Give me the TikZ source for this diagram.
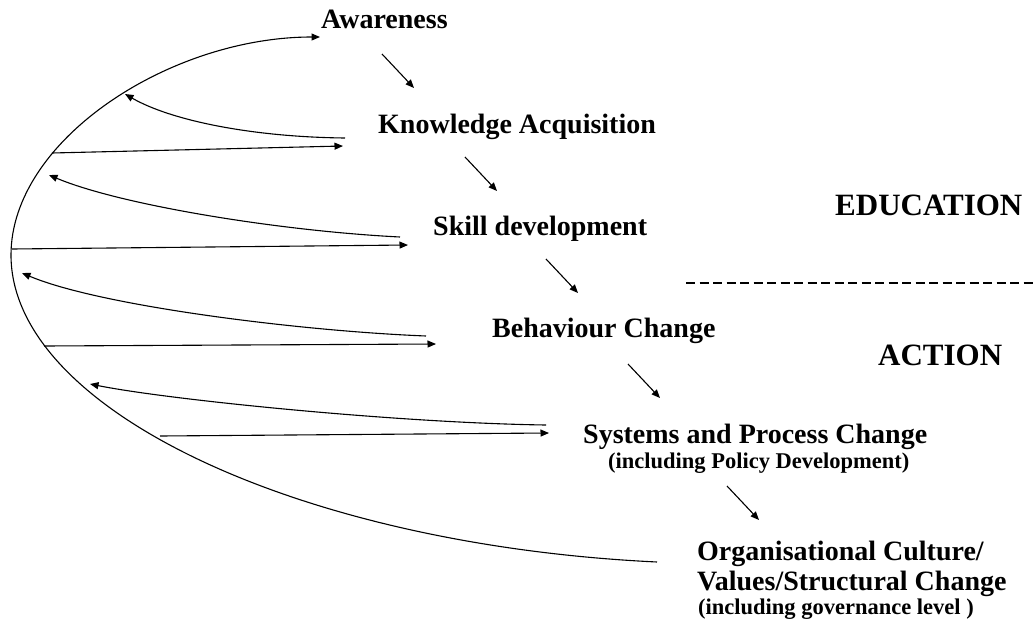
\documentclass[tikz,border=0pt]{standalone}
\usepackage{fontspec}
\setmainfont{Liberation Serif}
\usetikzlibrary{arrows.meta}
\begin{document}
\begin{tikzpicture}[x=1pt,y=-1pt,
  lbl/.style={anchor=base west, inner sep=0pt, font=\fontsize{28}{30}\selectfont\bfseries},
  sublbl/.style={anchor=base west, inner sep=0pt, font=\fontsize{22.5}{24}\selectfont\bfseries},
  headlbl/.style={anchor=base west, inner sep=0pt, font=\fontsize{31}{33}\selectfont\bfseries},
  arr/.style={line width=1.1pt, -{Triangle[length=8.5pt,width=7pt]}},
  curve/.style={line width=1.1pt},
  divider/.style={line width=1.3pt, dash pattern=on 9pt off 4.5pt}]
\path[use as bounding box] (0,0) rectangle (1035,629);

% labels
\node[lbl] (aw) at (321,28) {Awareness};
\node[lbl] (ka) at (378,133) {Knowledge Acquisition};
\node[lbl] (sd) at (433,235) {Skill development};
\node[lbl] (bc) at (492,337) {Behaviour Change};
\node[lbl] (sp) at (583,443) {Systems and Process Change};
\node[sublbl] (pd) at (608,468) {(including Policy Development)};
\node[lbl] (oc) at (697,560) {Organisational Culture/};
\node[lbl] (vs) at (697,590) {Values/Structural Change};
\node[sublbl] (gl) at (698,614) {(including governance level )};
\node[headlbl] (ed) at (835,215) {EDUCATION};
\node[headlbl] (ac) at (878,365) {ACTION};

% divider
\coordinate (dl) at (686,283);
\coordinate (dr) at (1035,283);
\draw[divider] (dl) -- (dr);

% big curve
\coordinate (ctop) at (320,37);
\coordinate (cleft) at (11,255);
\coordinate (cbot) at (657,562);
\draw[curve, -{Triangle[length=8.5pt,width=7pt]}] (cbot) .. controls (300,545) and (11,410) .. (cleft)
  .. controls (11,140) and (170,37) .. (ctop);

% diagonal progression arrows
\coordinate (d1a) at (382,54);  \coordinate (d1b) at (414,88);
\coordinate (d2a) at (465,157); \coordinate (d2b) at (497,191);
\coordinate (d3a) at (546,259); \coordinate (d3b) at (578,293);
\coordinate (d4a) at (628,364); \coordinate (d4b) at (660,398);
\coordinate (d5a) at (727,486); \coordinate (d5b) at (759,520);
\draw[arr] (d1a) -- (d1b);
\draw[arr] (d2a) -- (d2b);
\draw[arr] (d3a) -- (d3b);
\draw[arr] (d4a) -- (d4b);
\draw[arr] (d5a) -- (d5b);

% forward arrows
\coordinate (f1a) at (52,153);  \coordinate (f1b) at (343,146);
\coordinate (f2a) at (12,249);  \coordinate (f2b) at (408,245);
\coordinate (f3a) at (44,346);  \coordinate (f3b) at (436,344);
\coordinate (f4a) at (160,436); \coordinate (f4b) at (549,433);
\draw[arr] (f1a) -- (f1b);
\draw[arr] (f2a) -- (f2b);
\draw[arr] (f3a) -- (f3b);
\draw[arr] (f4a) -- (f4b);

% feedback arrows
\coordinate (b1a) at (345,138); \coordinate (b1b) at (125,94);
\coordinate (b2a) at (400,237); \coordinate (b2b) at (49,175);
\coordinate (b3a) at (426,336); \coordinate (b3b) at (22,273);
\coordinate (b4a) at (546,425); \coordinate (b4b) at (90,384);
\draw[arr] (b1a) .. controls (250,137) and (170,120) .. (b1b);
\draw[arr] (b2a) .. controls (280,231) and (120,205) .. (b2b);
\draw[arr] (b3a) .. controls (300,331) and (100,306) .. (b3b);
\draw[arr] (b4a) .. controls (400,423) and (170,400) .. (b4b);
\end{tikzpicture}
\end{document}
